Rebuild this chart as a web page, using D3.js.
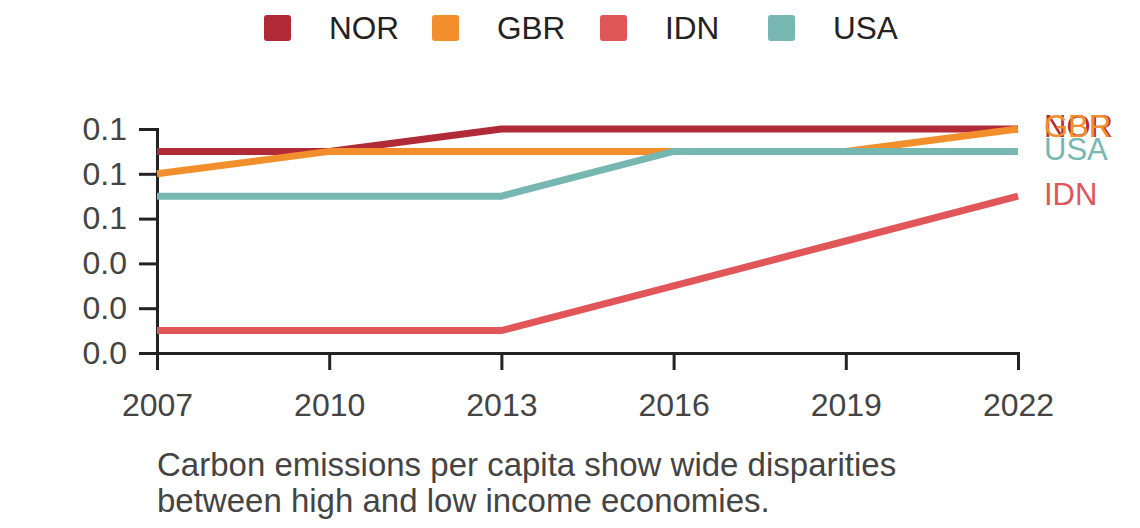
<!DOCTYPE html>
<html>
<head>
<meta charset="utf-8">
<script src="https://cdn.jsdelivr.net/npm/d3@7"></script>
<style>
  html, body { margin: 0; padding: 0; background: #fff; }
  svg { display: block; font-family: "Liberation Sans", Arial, sans-serif; }
</style>
</head>
<body>
<svg id="chart" width="1140" height="528"></svg>
<script>
const years = [2007, 2010, 2013, 2016, 2019, 2022];
const seriesNames = ["NOR", "GBR", "IDN", "USA"];
const seriesColors = ["#b02a37", "#f28e2b", "#e15759", "#76b7b2"];
const valuesNOR = [0.09, 0.09, 0.10, 0.10, 0.10, 0.10];
const valuesGBR = [0.08, 0.09, 0.09, 0.09, 0.09, 0.10];
const valuesIDN = [0.01, 0.01, 0.01, 0.03, 0.05, 0.07];
const valuesUSA = [0.07, 0.07, 0.07, 0.09, 0.09, 0.09];
const yTicks = [0, 0.02, 0.04, 0.06, 0.08, 0.10];
const captionLines = ["Carbon emissions per capita show wide disparities", "between high and low income economies."];

const seriesValues = [valuesNOR, valuesGBR, valuesIDN, valuesUSA];
const series = seriesNames.map((name, i) => ({
  name, color: seriesColors[i],
  points: years.map((yr, j) => ({ year: yr, value: seriesValues[i][j] }))
}));

const svg = d3.select("#chart");
const x = d3.scaleLinear().domain([2007, 2022]).range([157, 1018]);
const y = d3.scaleLinear().domain([0, 0.1]).range([353, 129]);

// axes
const xAxis = svg.append("g").attr("transform", "translate(0,353)")
  .call(d3.axisBottom(x).tickValues(years).tickFormat(d3.format("d")).tickSize(17).tickSizeOuter(17).tickPadding(23));
const yAxis = svg.append("g").attr("transform", "translate(157,0)")
  .call(d3.axisLeft(y).tickValues(yTicks).tickFormat(d3.format(".1f")).tickSize(18).tickSizeOuter(18).tickPadding(12));
[xAxis, yAxis].forEach(g => {
  g.selectAll("path.domain").attr("stroke", "#222").attr("stroke-width", 3);
  g.selectAll(".tick line").attr("stroke", "#222").attr("stroke-width", 3);
  g.selectAll(".tick text").attr("fill", "#444").attr("font-size", 32)
    .attr("font-family", "'Liberation Sans', Arial, sans-serif");
});
xAxis.selectAll(".tick text").attr("dy", "0.71em");

// lines
const line = d3.line().x(d => x(d.year)).y(d => y(d.value));
svg.append("g").selectAll("path.series").data(series).join("path")
  .attr("class", "series")
  .attr("fill", "none")
  .attr("stroke", d => d.color)
  .attr("stroke-width", 7)
  .attr("d", d => line(d.points));

// end labels
svg.append("g").selectAll("text").data(series).join("text")
  .attr("x", x(2022) + 26)
  .attr("y", d => y(d.points[d.points.length - 1].value))
  .attr("dy", "0.27em")
  .attr("fill", d => d.color)
  .attr("font-size", 31)
  .text(d => d.name);

// legend
const legend = svg.append("g");
const lg = legend.selectAll("g").data(series).join("g")
  .attr("transform", (d, i) => `translate(${264 + i * 168},15)`);
lg.append("rect").attr("width", 27).attr("height", 26).attr("rx", 3)
  .attr("fill", d => d.color);
lg.append("text").attr("x", 65).attr("y", 13).attr("dy", "0.35em")
  .attr("fill", "#222").attr("font-size", 31.5).text(d => d.name);

// caption
svg.append("g").selectAll("text").data(captionLines).join("text")
  .attr("x", 157).attr("y", (d, i) => 476 + i * 36)
  .attr("fill", "#444").attr("font-size", 33).text(d => d);
</script>
</body>
</html>
